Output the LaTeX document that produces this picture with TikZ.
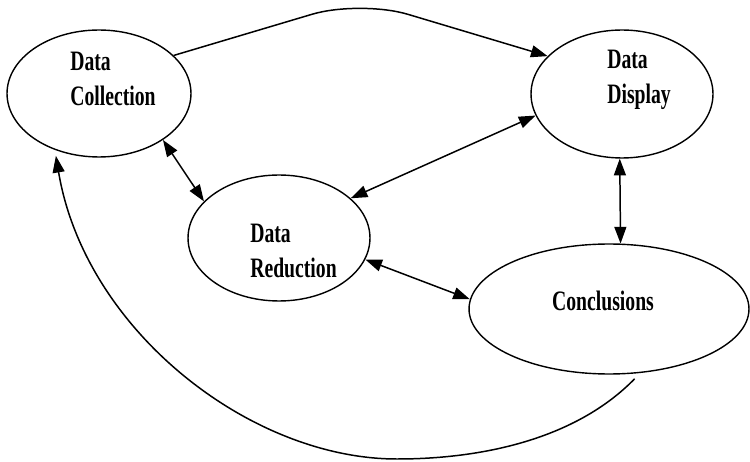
\documentclass[tikz,border=0pt]{standalone}
\usepackage{fontspec}
\usepackage{graphicx}
\setmainfont{Liberation Serif}
\usetikzlibrary{shapes.geometric,arrows.meta}
\newcommand{\nar}[1]{\scalebox{0.7}[1]{#1}}
\tikzset{
  oval/.style={ellipse, draw, line width=0.8pt, inner sep=0pt},
  lbl/.style={inner sep=0pt, align=left, font=\fontsize{16}{20}\selectfont\bfseries},
  arr/.style={line width=0.85pt, -{Triangle[length=9.5pt,width=6.8pt]}},
  biarr/.style={line width=0.85pt, {Triangle[length=9.5pt,width=6.8pt]}-{Triangle[length=9.5pt,width=6.8pt]}}
}
\begin{document}
\begin{tikzpicture}[x=0.02cm,y=-0.02cm]
\useasboundingbox (0,0) rectangle (750,462);
\node[oval, minimum width=3.68cm, minimum height=2.54cm] (coll) at (99,93.5) {};
\node[oval, minimum width=3.64cm, minimum height=2.56cm] (disp) at (622,94) {};
\node[oval, minimum width=3.64cm, minimum height=2.52cm] (red) at (279,238) {};
\node[oval, minimum width=5.6cm, minimum height=2.6cm] (conc) at (609,309) {};

\node[lbl, anchor=north west] (tcoll) at (70,52) {\nar{Data}\\\nar{Collection}};
\node[lbl, anchor=north west] (tdisp) at (607,50) {\nar{Data}\\\nar{Display}};
\node[lbl, anchor=north west] (tred) at (250,224) {\nar{Data}\\\nar{Reduction}};
\node[lbl, anchor=north] (tconc) at (603,291) {\nar{Conclusions}};

\coordinate (apex) at (360,0);
\draw[arr, rounded corners=1cm] (coll.27) -- (apex) -- (disp.153);
\draw[biarr] (coll.-36) -- (red.154);
\draw[biarr] (red.29) -- (disp.-166);
\draw[biarr] (disp.-92) -- (conc.80);
\draw[biarr] (red.-14) -- (conc.176);
\draw[arr, shorten <=0.16cm, shorten >=0.12cm] (conc.-64) .. controls (575,440) and (480,459) .. (397,459)
   .. controls (250,459) and (85,330) .. (coll.-128);
\end{tikzpicture}
\end{document}
